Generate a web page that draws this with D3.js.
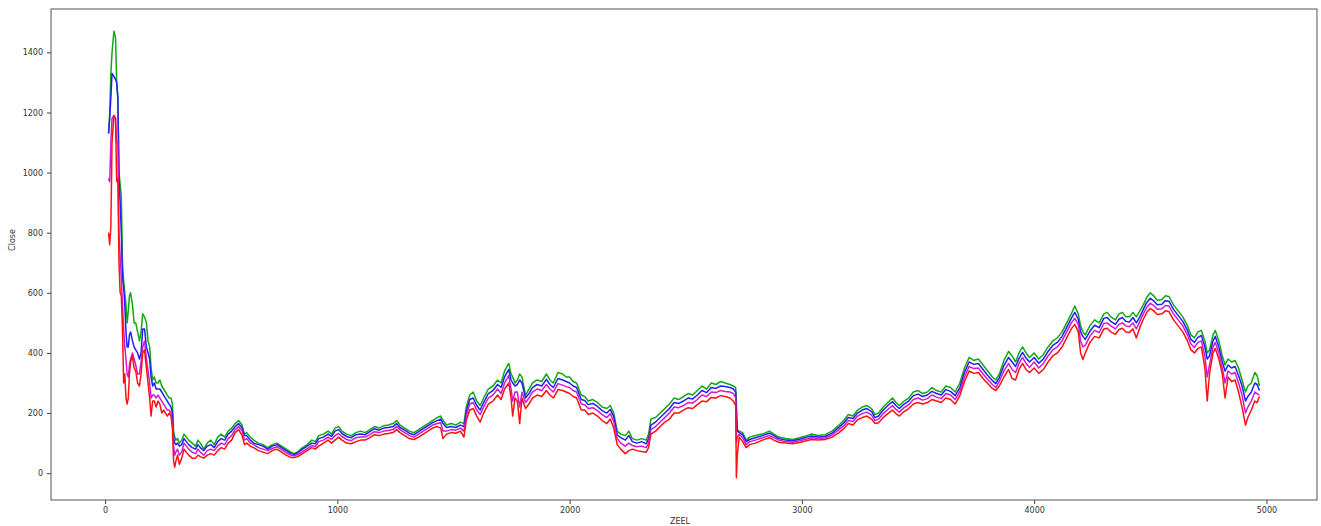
<!DOCTYPE html>
<html>
<head>
<meta charset="utf-8">
<script src="https://cdn.jsdelivr.net/npm/d3@7"></script>
<style>
  html, body { margin: 0; padding: 0; background: #fff; }
  svg { display: block; }
  .tick text { font-family: "DejaVu Sans", sans-serif; font-size: 8px; fill: #333; }
</style>
</head>
<body>
<svg id="chart" width="1321" height="526"></svg>
<script>
// Trading-day index
const dayIndex = [15,20,25,30,38,45,50,55,60,65,70,75,80,85,90,95,100,105,110,118,125,132,140,148,155,162,170,178,185,192,198,205,212,220,228,236,244,252,260,268,276,284,290,295,300,305,312,320,330,340,350,360,375,390,400,410,425,440,455,470,485,500,515,530,545,560,575,590,600,610,625,640,660,680,700,720,740,760,780,800,815,830,850,870,890,905,920,940,960,975,990,1005,1020,1040,1060,1080,1100,1120,1140,1160,1180,1200,1220,1240,1255,1270,1290,1310,1330,1350,1370,1390,1410,1430,1445,1455,1470,1490,1510,1530,1545,1555,1570,1585,1600,1615,1630,1650,1670,1690,1705,1720,1738,1748,1755,1765,1775,1785,1795,1810,1825,1840,1860,1880,1900,1915,1930,1950,1970,1985,2000,2015,2030,2050,2065,2080,2100,2120,2140,2160,2175,2190,2205,2220,2240,2255,2270,2290,2310,2330,2340,2350,2370,2390,2410,2430,2450,2470,2490,2510,2530,2550,2570,2590,2610,2630,2650,2670,2690,2705,2715,2718,2722,2730,2745,2760,2775,2800,2830,2860,2880,2900,2930,2960,2990,3020,3040,3070,3100,3130,3160,3180,3200,3220,3240,3260,3280,3300,3315,3330,3350,3370,3390,3405,3420,3440,3460,3480,3500,3520,3540,3560,3580,3600,3620,3640,3660,3680,3700,3720,3740,3760,3780,3800,3820,3835,3850,3870,3890,3905,3920,3935,3950,3965,3980,4000,4020,4040,4060,4080,4100,4120,4140,4160,4175,4190,4200,4210,4220,4240,4260,4280,4300,4315,4330,4350,4365,4380,4395,4410,4425,4440,4455,4470,4485,4500,4515,4530,4550,4565,4580,4600,4620,4640,4660,4675,4690,4705,4720,4735,4745,4755,4770,4780,4795,4810,4822,4835,4850,4865,4880,4895,4910,4920,4935,4950,4960,4970];

// Upper band (green)
const upperBand = [1130,1200,1330,1400,1470,1450,1300,1250,1000,960,920,700,640,600,560,500,540,590,600,560,500,500,470,440,470,530,520,500,440,420,350,310,320,300,300,310,290,280,270,260,250,250,230,140,120,110,115,100,110,130,120,110,100,90,110,100,80,100,110,95,120,130,120,140,150,165,175,160,130,135,120,110,100,95,85,95,100,90,80,70,65,72,85,95,110,105,125,130,140,130,150,155,140,130,125,135,140,135,145,155,150,158,160,165,175,160,150,140,135,145,155,165,175,185,190,175,160,165,160,170,165,220,260,270,240,225,250,280,290,310,300,340,365,330,320,300,310,330,320,260,280,300,310,305,330,310,300,335,330,320,320,305,300,260,255,240,245,235,220,215,225,200,140,130,125,140,115,110,115,110,130,180,185,200,215,230,250,245,255,265,260,275,290,280,300,295,305,300,295,290,285,240,145,140,135,110,120,125,130,140,130,120,115,112,118,125,130,125,128,140,160,175,195,190,210,220,225,215,195,200,220,235,250,235,225,240,250,270,275,265,270,285,275,270,290,285,270,300,350,385,375,380,360,340,320,310,330,375,405,390,370,400,420,400,385,400,380,395,420,440,450,470,500,530,556,530,490,470,460,490,510,500,530,535,520,510,530,535,520,520,535,520,540,560,585,600,590,575,578,590,588,560,540,520,490,460,450,470,475,440,400,410,460,475,440,390,360,380,370,375,350,310,270,290,300,335,325,290];

// Middle line (blue)
const middleLine = [1130,1180,1250,1330,1320,1310,1300,1250,980,900,800,650,620,560,470,420,420,460,470,440,420,410,400,380,400,480,480,420,400,380,320,290,300,280,280,280,270,260,250,240,230,220,200,120,100,95,100,90,95,115,105,95,85,80,95,85,75,90,95,85,105,115,110,130,140,155,165,150,125,125,110,100,95,90,80,90,95,85,75,65,62,68,80,90,100,98,115,120,130,122,140,145,132,122,118,128,130,128,138,148,143,150,152,155,165,152,143,133,128,138,148,158,168,175,180,165,152,155,152,160,155,205,245,250,225,210,235,265,275,295,285,320,345,310,300,290,295,310,300,250,265,285,295,290,312,295,285,315,310,305,300,290,285,245,242,228,232,222,208,200,212,188,128,118,110,125,105,100,105,98,115,160,170,185,200,215,235,232,240,250,247,260,275,268,285,282,290,288,285,280,270,200,140,135,128,105,112,118,125,133,125,115,110,108,113,120,124,120,122,133,153,167,185,182,200,210,215,205,185,190,210,225,238,225,215,230,240,258,263,255,260,272,265,260,278,272,258,285,335,370,362,365,345,325,308,298,318,358,385,370,355,382,402,383,370,385,366,380,405,425,435,455,485,515,535,512,470,455,445,472,492,484,515,518,505,495,512,518,505,503,518,500,520,545,568,582,573,560,562,574,572,545,525,505,475,445,435,452,458,420,380,390,440,455,420,370,340,360,350,355,325,290,240,255,270,300,295,275];

// Close (magenta)
const closeLine = [980,970,1100,1180,1190,1180,1100,1100,800,720,650,560,480,420,380,330,320,360,380,400,380,360,330,330,370,420,440,380,340,300,250,260,260,250,260,250,240,230,220,210,210,200,170,90,60,70,80,60,70,100,90,80,70,65,80,70,60,75,80,75,90,100,95,115,125,145,155,140,110,115,100,95,85,80,75,82,88,78,68,60,58,62,72,82,92,88,105,110,120,112,125,132,122,112,108,118,120,120,128,138,135,140,142,145,155,145,135,125,120,130,140,150,160,165,168,140,140,145,143,150,140,190,230,235,210,195,220,250,260,280,265,300,325,280,240,270,270,220,270,235,250,270,280,275,295,280,270,298,293,288,285,275,270,230,228,215,218,208,195,185,198,172,115,100,90,100,92,88,90,85,100,145,155,170,185,200,220,218,225,235,233,245,260,255,270,268,275,272,270,265,250,100,120,130,118,95,105,110,118,125,118,110,105,103,108,114,118,115,117,127,145,158,175,172,190,198,203,193,175,180,198,212,225,212,203,218,228,245,250,243,248,260,253,248,265,260,245,272,320,355,348,350,330,312,295,285,305,340,365,345,335,365,385,365,352,370,350,365,390,410,420,440,470,500,515,495,440,420,425,455,475,468,498,500,490,480,495,500,490,487,500,480,505,530,552,565,558,545,547,558,556,530,510,490,460,430,418,435,440,390,320,360,420,435,400,350,300,340,330,335,300,260,200,220,240,270,265,260];

// Lower band (red)
const lowerBand = [800,760,820,1100,1190,1180,970,980,700,600,590,480,300,330,250,230,250,330,370,390,350,340,300,290,330,400,410,350,300,250,190,240,240,220,240,230,200,210,200,190,200,190,150,40,20,40,60,30,50,80,70,60,50,50,60,55,50,60,65,60,75,85,80,100,110,135,145,125,95,100,90,85,75,70,65,75,80,70,60,52,52,55,65,75,85,80,90,100,110,100,110,120,110,100,98,105,110,110,118,128,125,130,132,135,145,135,125,115,112,120,130,140,150,155,150,115,130,135,133,140,120,175,210,215,190,170,200,230,240,260,245,280,300,250,190,250,240,165,250,215,230,250,260,255,275,260,250,278,275,270,265,255,250,210,210,195,200,190,175,165,180,150,95,80,65,75,80,75,72,70,85,130,140,155,170,180,200,200,210,218,215,228,240,238,252,250,258,255,250,240,225,-15,60,120,105,85,95,100,110,118,110,103,100,98,102,108,112,110,112,120,135,148,165,160,178,185,190,180,165,168,185,198,210,198,190,205,215,230,235,230,235,245,240,235,250,245,230,258,305,340,332,335,315,298,282,275,290,320,345,315,310,345,365,345,335,350,332,345,370,390,400,420,450,480,495,470,400,378,400,435,455,450,480,482,470,462,478,482,470,468,480,450,485,512,535,548,540,528,530,540,538,510,490,470,440,410,400,415,420,350,240,330,400,415,380,330,250,320,305,310,270,220,160,185,210,240,235,255];

const series = [
  { values: upperBand,  color: "#12a812" },
  { values: middleLine, color: "#1f1fff" },
  { values: closeLine,  color: "#d01ad0" },
  { values: lowerBand,  color: "#ff1010" }
];

const xTicks = [0, 1000, 2000, 3000, 4000, 5000];
const yTicks = [0, 200, 400, 600, 800, 1000, 1200, 1400];

const svg = d3.select("#chart");
const plot = { left: 51, right: 1317, top: 9, bottom: 500 };

// 5% padding on both axes around the data extent
function padded(ext) {
  const r = ext[1] - ext[0];
  return [ext[0] - 0.05 * r, ext[1] + 0.05 * r];
}
const allValues = series.flatMap(s => s.values);
const x = d3.scaleLinear().domain(padded(d3.extent(dayIndex))).range([plot.left, plot.right]);
const y = d3.scaleLinear().domain(padded(d3.extent(allValues))).range([plot.bottom, plot.top]);

// Series lines
const line = d3.line().x((d, i) => x(dayIndex[i])).y(d => y(d));
svg.append("g").selectAll("path")
  .data(series)
  .join("path")
  .attr("fill", "none")
  .attr("stroke", d => d.color)
  .attr("stroke-width", 1.5)
  .attr("stroke-linejoin", "round")
  .attr("d", d => line(d.values));

// Axes
const xAxis = svg.append("g")
  .attr("transform", `translate(0,${plot.bottom})`)
  .call(d3.axisBottom(x).tickValues(xTicks).tickFormat(d3.format("d")).tickSize(4).tickPadding(3));
const yAxis = svg.append("g")
  .attr("transform", `translate(${plot.left},0)`)
  .call(d3.axisLeft(y).tickValues(yTicks).tickFormat(d3.format("d")).tickSize(4).tickPadding(4));
[xAxis, yAxis].forEach(g => {
  g.select(".domain").remove();
  g.selectAll(".tick line").attr("stroke", "#444");
});

// Frame around the plotting area
svg.append("rect")
  .attr("x", plot.left).attr("y", plot.top)
  .attr("width", plot.right - plot.left).attr("height", plot.bottom - plot.top)
  .attr("fill", "none").attr("stroke", "#555").attr("stroke-width", 1);

// Axis titles
svg.append("text")
  .attr("x", 680).attr("y", 524)
  .attr("text-anchor", "middle")
  .attr("font-family", "DejaVu Sans, sans-serif").attr("font-size", 8).attr("fill", "#333")
  .text("ZEEL");
svg.append("text")
  .attr("transform", "translate(15,240) rotate(-90)")
  .attr("text-anchor", "middle")
  .attr("font-family", "DejaVu Sans, sans-serif").attr("font-size", 8).attr("fill", "#333")
  .text("Close");
</script>
</body>
</html>
